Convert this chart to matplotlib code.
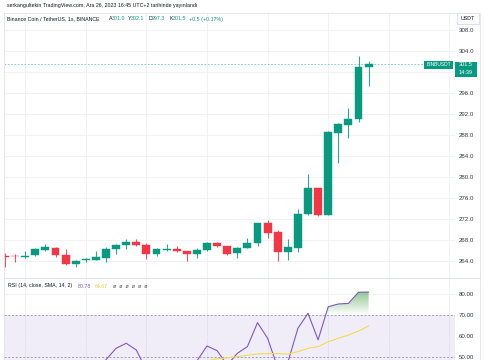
import numpy as np
import matplotlib
matplotlib.use("Agg")
import matplotlib.pyplot as plt
from matplotlib.patches import Rectangle
from matplotlib.path import Path
from matplotlib.colors import to_rgb

plt.rcParams["font.family"] = ["Liberation Sans", "DejaVu Sans"]

W, H = 485, 360

# ---- data (BNB/USDT, 1s candles) ----
opens = [265.0, 265.0, 264.75, 265.15, 266.15, 266.55, 265.15, 263.4, 264.1, 264.25,
         264.55, 266.3, 267.1, 267.7, 267.05, 265.35, 266.05, 266.25, 265.9, 265.4,
         266.05, 267.4, 266.8, 265.5, 266.55, 267.5, 271.2, 269.6, 265.65, 266.55,
         272.95, 277.85, 272.8, 288.3, 290.0, 291.05, 301.0]
highs = [265.45, 265.3, 265.9, 266.4, 267.3, 266.6, 266.3, 264.1, 264.6, 265.9,
         266.7, 267.2, 268.25, 268.1, 267.5, 266.55, 267.2, 266.9, 266.0, 266.4,
         267.7, 267.6, 266.85, 266.65, 268.45, 271.3, 271.8, 269.9, 268.2, 273.85,
         280.55, 277.9, 288.75, 290.2, 293.2, 303.05, 302.1]
lows = [262.9, 263.9, 264.6, 265.0, 266.0, 264.8, 263.3, 262.8, 263.9, 264.2,
        263.8, 265.3, 266.35, 266.85, 264.45, 265.0, 265.9, 265.8, 264.0, 264.5,
        265.85, 266.7, 265.2, 264.5, 266.5, 266.9, 268.45, 264.05, 264.2, 265.75,
        272.85, 272.6, 272.7, 282.7, 287.4, 290.4, 297.3]
closes = [264.85, 264.9, 265.0, 266.2, 266.6, 265.15, 263.35, 264.05, 264.4, 264.75,
          266.2, 267.05, 267.7, 267.1, 265.3, 266.25, 266.3, 266.0, 265.4, 266.15,
          267.45, 266.9, 265.4, 266.55, 267.4, 271.2, 269.4, 265.65, 266.6, 272.95,
          277.85, 272.75, 288.5, 290.1, 291.1, 301.0, 301.5]

rsi = [42, 42, 43, 46, 47, 44, 38, 40, 41, 43,
       48.6, 54.0, 56.4, 53.2, 43.6, 46, 46.5, 46, 44, 48.0,
       55.1, 52.9, 46, 51.6, 54.8, 66.2, 58.8, 44.8, 47.3, 63.5,
       70.7, 58.0, 73.8, 75.1, 75.4, 80.7, 80.78]
rsi_ma = [45, 45, 45, 45, 45.5, 45.5, 45.2, 45, 45, 45.3,
          45.8, 46.4, 47, 47.3, 47.2, 47.5, 47.8, 48, 47.9, 48.1,
          48.0, 49.0, 49.5, 50.0, 50.7, 51.3, 51.5, 51.5, 51.3, 52.4,
          54.0, 54.8, 57.1, 58.8, 60.3, 62.2, 64.67]

price_ticks = [264, 268, 272, 276, 280, 284, 288, 292, 296, 300, 304, 308]
rsi_ticks = [50, 60, 70, 80]
last_price = 301.5

UP, DOWN = "#089981", "#F23645"
GRID = "#eef0f4"
TXT = "#131722"
RSI_C, MA_C = "#7E57C2", "#F2DC4E"


def fx(x):
    return x / W


def fy(y):
    return 1 - y / H


fig = plt.figure(figsize=(W / 100, H / 100), dpi=100)
fig.patch.set_facecolor("white")

# pixel geometry of the panes
L, R = 4, 455
T1, B1 = 13, 278
ax = fig.add_axes([fx(L), fy(B1), (R - L) / W, (B1 - T1) / H])
ax2 = fig.add_axes([fx(L), 0, (R - L) / W, (H - B1) / H], sharex=ax)

n = len(opens)
x = np.arange(n)
o, h, lo, c = map(np.array, (opens, highs, lows, closes))
up = c >= o
cols = np.where(up, UP, DOWN)

# candles
ax.vlines(x, lo, h, colors=cols, lw=0.8, alpha=0.85, zorder=3)
body = np.maximum(np.abs(c - o), 0.12)
ax.bar(x, body, bottom=np.minimum(o, c), width=0.78, color=cols,
       edgecolor=cols, lw=0.3, zorder=4)

# last price line
ax.axhline(last_price, color=UP, lw=0.6, alpha=0.55, dashes=(2, 2), zorder=2)

xmin = (L - 5) / 10.1
xmax = (R - 5) / 10.1
ax.set_xlim(xmin, xmax)
ax.set_ylim(264 - (B1 - 261) / 5.25, 264 + (261 - T1) / 5.25)

for a in (ax, ax2):
    for k in range(2, 46, 6):
        a.axvline(k, color=GRID, lw=0.6, zorder=0)
    for s in a.spines.values():
        s.set_visible(False)
    a.tick_params(axis="x", bottom=False, labelbottom=False)
    a.yaxis.tick_right()
    a.tick_params(axis="y", length=0, pad=2.5, labelsize=4.4, labelcolor="#333842")

ax.set_yticks(price_ticks)
ax.set_yticklabels([f"{t:.1f}" for t in price_ticks])
for t in price_ticks:
    ax.axhline(t, color=GRID, lw=0.6, zorder=0)

# ---- RSI pane ----
r = np.array(rsi)
ax2.axhspan(30, 70, color=RSI_C, alpha=0.1, lw=0, zorder=0)
for t in (80, 60):
    ax2.axhline(t, color=GRID, lw=0.6, zorder=0)
for t in (70, 50, 30):
    ax2.axhline(t, color="#9598a1", lw=0.6, dashes=(2.5, 2), zorder=1)

poly = ax2.fill_between(x, r, 70, where=r >= 70, interpolate=True,
                        facecolor="none", lw=0)
grad = np.zeros((100, 1, 4))
grad[..., :3] = to_rgb("#43A047")
grad[:, 0, 3] = np.linspace(0.0, 0.6, 100)
im = ax2.imshow(grad, extent=(0, n - 1, 70, 81), origin="lower",
                aspect="auto", zorder=1)
im.set_clip_path(Path.make_compound_path(*poly.get_paths()), transform=ax2.transData)

ax2.plot(x, r, color=RSI_C, lw=0.8, zorder=3)
ax2.plot(x, rsi_ma, color=MA_C, lw=0.8, zorder=3)
ax2.set_xlim(xmin, xmax)
ax2.set_ylim(80 - (H - 293.7) / 2.1, 80 + (293.7 - B1) / 2.1)
ax2.set_yticks(rsi_ticks)
ax2.set_yticklabels([f"{t:.2f}" for t in rsi_ticks])

# frame lines
fig.add_artist(plt.Line2D([fx(L), fx(L)], [0, fy(T1)], color="#e0e3eb", lw=0.6))
fig.add_artist(plt.Line2D([fx(L), fx(480)], [fy(T1), fy(T1)], color="#e0e3eb", lw=0.6))
fig.add_artist(plt.Line2D([fx(L), fx(480)], [fy(B1), fy(B1)], color="#e0e3eb", lw=0.8))
fig.add_artist(plt.Line2D([fx(480), fx(480)], [0, fy(T1)], color="#e0e3eb", lw=0.6))

# ---- header texts ----
fs = 3.8
fig.text(fx(7.5), fy(6), "serkangultekin TradingView.com, Ara 26, 2023 16:45 UTC+2 tarihinde yayınlandı",
         fontsize=fs, color=TXT, va="center")
segs = [("Binance Coin / TetherUS, 1s, BINANCE", 7.5, TXT), ("A", 108.5, TXT),
        ("301.0", 111.5, UP), ("Y", 127.7, TXT), ("302.1", 131, UP),
        ("D", 148.8, TXT), ("297.3", 152.2, UP), ("K", 169.2, TXT),
        ("301.5", 172.6, UP), ("+0.5 (+0.17%)", 189.3, UP)]
for s, px, col in segs:
    fig.text(fx(px), fy(19), s, fontsize=fs, color=col, va="center")

rsegs = [("RSI (14, close, SMA, 14, 2)", 7.8, TXT), ("80.78", 77.3, RSI_C),
         ("64.67", 95, "#E8CF3A"), ("ø  ø  ø  ø  ø  ø", 112.7, "#555")]
for s, px, col in rsegs:
    fig.text(fx(px), fy(286), s, fontsize=fs, color=col, va="center")

# USDT box
fig.add_artist(Rectangle((fx(457), fy(24)), 22 / W, 11 / H, transform=fig.transFigure,
                         facecolor="white", edgecolor="#d1d4dc", lw=0.5))
fig.text(fx(468), fy(18.5), "USDT", fontsize=3.8, color=TXT, ha="center", va="center")

# last price labels
fig.add_artist(Rectangle((fx(424), fy(68.5)), 29 / W, 7 / H, transform=fig.transFigure,
                         facecolor=UP, edgecolor="none"))
fig.text(fx(438.5), fy(65), "BINBUSDT", fontsize=3.5, color="white", ha="center", va="center")
fig.add_artist(Rectangle((fx(455), fy(77)), 22 / W, 15.5 / H, transform=fig.transFigure,
                         facecolor=UP, edgecolor="none"))
fig.text(fx(466), fy(65), f"{last_price:.1f}", fontsize=4.0, color="white", ha="center", va="center")
fig.text(fx(466), fy(72.5), "14:39", fontsize=4.0, color="white", ha="center", va="center")

fig.savefig("out.png", dpi=100, facecolor="white")
